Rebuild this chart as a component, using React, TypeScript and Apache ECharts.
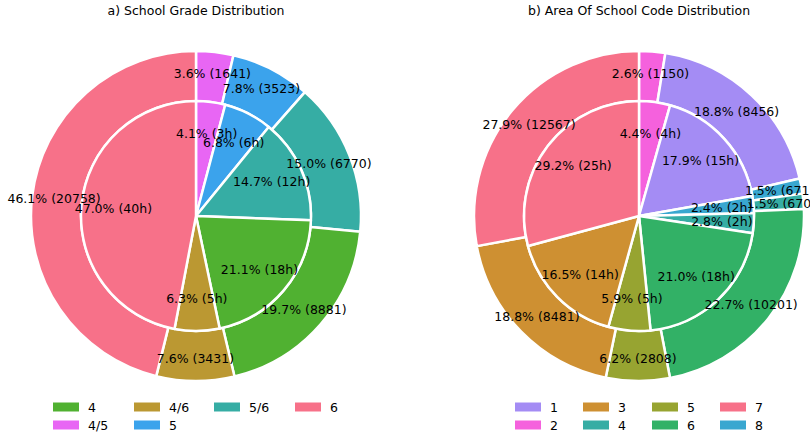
import React, { useEffect, useRef } from 'react';
import * as echarts from 'echarts';

const FONT = 'DejaVu Sans';

// a) School Grade Distribution (clockwise from top)
const gradeNames = ['4/5', '5', '5/6', '4', '4/6', '6'];
const gradeStudents = [1641, 3523, 6770, 8881, 3431, 20758];
const gradeHours = [3.46, 5.75, 12.42, 17.83, 5.32, 39.72];
const gradeColors = ['#e866f4', '#3ba3ec', '#36ada4', '#50b131', '#bb9832', '#f77189'];
const gradeLegendColumns = [['4', '4/5'], ['4/6', '5'], ['5/6'], ['6']];

// b) Area Of School Code Distribution (clockwise from top)
const areaNames = ['2', '1', '8', '4', '6', '5', '3', '7'];
const areaStudents = [1150, 8456, 671, 670, 10201, 2808, 8481, 12567];
const areaHours = [3.706, 15.181, 2.023, 2.38, 17.85, 5.015, 14.025, 24.82];
const areaColors = ['#f561dd', '#a48cf4', '#39a7d0', '#36ada4', '#32b166', '#97a431', '#ce9032', '#f77189'];
const areaLegendColumns = [['1', '2'], ['3', '4'], ['5', '6'], ['7', '8']];

const sum = (a: number[]) => a.reduce((s, v) => s + v, 0);

function buildOption(
  title: string,
  names: string[],
  outer: number[],
  inner: number[],
  colors: string[],
  cx: number,
  legendCols: string[][],
  legendX: number[]
) {
  const cy = 216;
  const outerTotal = sum(outer);
  const innerTotal = sum(inner);
  const labelStyle = {
    show: true,
    position: 'inside',
    color: '#000',
    fontSize: 12.5,
    fontFamily: FONT,
    textBorderWidth: 0,
    textShadowBlur: 0,
  };
  const common = {
    type: 'pie',
    center: [cx, cy],
    startAngle: 90,
    clockwise: true,
    silent: true,
    avoidLabelOverlap: false,
    labelLayout: { hideOverlap: false },
    labelLine: { show: false },
    emphasis: { disabled: true },
  };
  return {
    animation: false,
    graphic: [
      {
        type: 'text',
        x: cx,
        y: 10.5,
        style: {
          text: title,
          fill: '#000',
          fontSize: 12.5,
          fontFamily: FONT,
          align: 'center',
          verticalAlign: 'middle',
        },
      },
    ],
    legend: legendCols.map((col, k) => ({
      orient: 'vertical',
      left: legendX[k],
      top: 398,
      padding: 0,
      itemGap: 0,
      itemWidth: 26,
      itemHeight: 9,
      icon: 'rect',
      selectedMode: false,
      data: col,
      itemStyle: { borderWidth: 0 },
      textStyle: {
        fontSize: 12.5,
        fontFamily: FONT,
        color: '#000',
        lineHeight: 18,
        padding: [0, 0, 0, 4],
      },
    })),
    series: [
      {
        ...common,
        name: 'outer',
        radius: [115, 165],
        data: names.map((n, i) => ({ name: n, value: outer[i], itemStyle: { color: colors[i] } })),
        itemStyle: { borderColor: '#fff', borderWidth: 2.5 },
        label: {
          ...labelStyle,
          formatter: (p: any) => `${((p.value / outerTotal) * 100).toFixed(1)}% (${p.value})`,
        },
      },
      {
        ...common,
        name: 'inner',
        radius: [0, 115],
        data: names.map((n, i) => ({ name: n, value: inner[i], itemStyle: { color: colors[i] } })),
        itemStyle: { borderColor: '#fff', borderWidth: 2.5 },
        label: { show: false },
      },
      {
        ...common,
        name: 'innerLabels',
        radius: [45, 115],
        legendHoverLink: false,
        data: names.map((n, i) => ({ name: n, value: inner[i] })),
        itemStyle: { color: 'rgba(0,0,0,0)', borderWidth: 0 },
        label: {
          ...labelStyle,
          formatter: (p: any) =>
            `${((p.value / innerTotal) * 100).toFixed(1)}% (${Math.round(p.value)}h)`,
        },
      },
    ],
  };
}

function PieChart({ option }: { option: any }) {
  const ref = useRef<HTMLDivElement>(null);
  useEffect(() => {
    if (!ref.current) return;
    const chart = echarts.init(ref.current, undefined, { renderer: 'svg' });
    chart.setOption(option);
    return () => chart.dispose();
  }, [option]);
  return <div ref={ref} style={{ width: 405, height: 438 }} />;
}

const leftOption = buildOption(
  'a) School Grade Distribution',
  gradeNames,
  gradeStudents,
  gradeHours,
  gradeColors,
  196,
  gradeLegendColumns,
  [53, 134, 214, 295]
);
const rightOption = buildOption(
  'b) Area Of School Code Distribution',
  areaNames,
  areaStudents,
  areaHours,
  areaColors,
  234,
  areaLegendColumns,
  [110, 178, 247, 315]
);

export default function App() {
  useEffect(() => {
    document.body.style.margin = '0';
  }, []);
  return (
    <div style={{ display: 'flex', width: 810, height: 438, background: '#fff', overflow: 'hidden' }}>
      <PieChart option={leftOption} />
      <PieChart option={rightOption} />
    </div>
  );
}
